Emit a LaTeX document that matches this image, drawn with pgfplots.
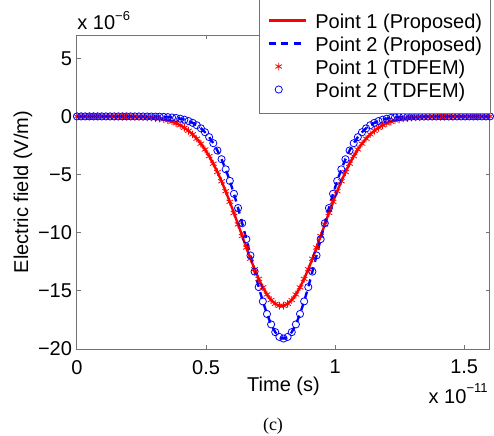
\documentclass[border=0pt]{standalone}
\usepackage{fontspec}
\setmainfont{Liberation Sans}
\newfontfamily\timesfont{Liberation Serif}
\usepackage{pgfplots}
\pgfplotsset{compat=1.18}
\usepackage{pgfplotstable}

% time in 1e-11 s, field in 1e-6 V/m
\pgfplotstableread{
t p1 p2
0.000 0 0
0.016 0 0
0.032 0 0
0.048 0 0
0.064 0 0
0.080 0 0
0.096 0 0
0.112 0 0
0.128 -0.003 0
0.144 -0.004 0
0.160 -0.006 0
0.176 -0.008 0
0.192 -0.012 0
0.208 -0.018 0
0.224 -0.026 0
0.240 -0.038 0
0.256 -0.053 -0.004
0.272 -0.074 -0.007
0.288 -0.103 -0.011
0.304 -0.141 -0.017
0.320 -0.192 -0.026
0.336 -0.259 -0.040
0.352 -0.344 -0.061
0.368 -0.453 -0.092
0.384 -0.591 -0.135
0.400 -0.762 -0.197
0.416 -0.974 -0.282
0.432 -1.232 -0.397
0.448 -1.542 -0.552
0.464 -1.910 -0.757
0.480 -2.342 -1.021
0.496 -2.843 -1.359
0.512 -3.416 -1.782
0.528 -4.064 -2.303
0.544 -4.784 -2.932
0.560 -5.576 -3.679
0.576 -6.432 -4.549
0.592 -7.345 -5.543
0.608 -8.302 -6.656
0.624 -9.288 -7.877
0.640 -10.285 -9.186
0.656 -11.275 -10.556
0.672 -12.233 -11.955
0.688 -13.139 -13.343
0.704 -13.969 -14.675
0.720 -14.701 -15.906
0.736 -15.312 -16.989
0.752 -15.788 -17.882
0.768 -16.114 -18.549
0.784 -16.279 -18.961
0.800 -16.279 -19.100
0.816 -16.114 -18.961
0.832 -15.788 -18.549
0.848 -15.312 -17.882
0.864 -14.701 -16.989
0.880 -13.969 -15.906
0.896 -13.139 -14.675
0.912 -12.233 -13.343
0.928 -11.275 -11.955
0.944 -10.285 -10.556
0.960 -9.288 -9.186
0.976 -8.302 -7.877
0.992 -7.345 -6.656
1.008 -6.432 -5.543
1.024 -5.576 -4.549
1.040 -4.784 -3.679
1.056 -4.064 -2.932
1.072 -3.416 -2.303
1.088 -2.843 -1.782
1.104 -2.342 -1.359
1.120 -1.910 -1.021
1.136 -1.542 -0.757
1.152 -1.232 -0.552
1.168 -0.974 -0.397
1.184 -0.762 -0.282
1.200 -0.591 -0.197
1.216 -0.453 -0.135
1.232 -0.344 -0.092
1.248 -0.259 -0.061
1.264 -0.192 -0.040
1.280 -0.141 -0.026
1.296 -0.103 -0.017
1.312 -0.074 -0.011
1.328 -0.053 -0.007
1.344 -0.038 -0.004
1.360 -0.026 0
1.376 -0.018 0
1.392 -0.012 0
1.408 -0.008 0
1.424 -0.006 0
1.440 -0.004 0
1.456 -0.003 0
1.472 0 0
1.488 0 0
1.504 0 0
1.520 0 0
1.536 0 0
1.552 0 0
1.568 0 0
1.584 0 0
1.600 0 0
}\efield

\begin{document}
\begin{tikzpicture}
\path[use as bounding box] (-38.5pt,-43pt) rectangle (208.5pt,174.5pt);
\begin{axis}[
    scale only axis, width=206.5pt, height=157pt,
    xmin=0, xmax=1.6, ymin=-20, ymax=7,
    xtick={0,0.5,1,1.5}, xticklabels={0,0.5,1,1.5},
    ytick={-20,-15,-10,-5,0,5}, yticklabels={−20,−15,−10,−5,0,5},
    tick align=inside, major tick length=2pt,
    axis line style={black!55, line width=0.5pt},
    major tick style={black!55, line width=0.5pt},
    xticklabel style={yshift=-2pt},
    yticklabel style={xshift=1pt},
    xlabel={Time (s)}, ylabel={Electric field (V/m)},
    xlabel style={at={(axis description cs:0.5,-0.134)}, anchor=base},
    ylabel style={at={(axis description cs:-0.131,0.5)}, anchor=center},
    legend cell align=left,
    legend style={at={(axis description cs:1.0024,1.1242)}, anchor=north east,
        draw=black!55, line width=0.5pt, fill=white,
        inner xsep=4.2pt, inner ysep=7pt, row sep=1.5pt, column sep=4pt,
        nodes={inner sep=0pt, text height=9pt, text depth=1pt}},
]
% legend samples
\addlegendimage{legend image code/.code={%
    \draw[red, line width=1.2pt] (0pt,0pt) -- (18.7pt,0pt);}}
\addlegendimage{legend image code/.code={%
    \draw[blue, line width=1.2pt, dash pattern=on 3.5pt off 2.8pt] (0pt,0pt) -- (18.7pt,0pt);}}
\addlegendimage{legend image code/.code={%
    \path[draw=none] (0pt,0pt) -- (18.7pt,0pt);
    \draw[red, line width=0.4pt] plot[only marks, mark=asterisk, mark size=1.9pt] coordinates {(5pt,0pt)};}}
\addlegendimage{legend image code/.code={%
    \path[draw=none] (0pt,0pt) -- (18.7pt,0pt);
    \draw[blue, line width=0.4pt] plot[only marks, mark=o, mark size=1.8pt] coordinates {(5pt,0pt)};}}

\addplot[forget plot, red, line width=1.2pt] table[x=t, y=p1] {\efield};
\addplot[forget plot, blue, line width=1.2pt, dash pattern=on 3.5pt off 2.8pt]
    table[x=t, y=p2] {\efield};
\addplot[forget plot, only marks, draw=none, mark=asterisk, mark size=1.9pt,
    mark options={draw=red, line width=0.4pt}] table[x=t, y=p1] {\efield};
\addplot[forget plot, only marks, draw=none, mark=o, mark size=1.8pt,
    mark options={draw=blue, line width=0.4pt}] table[x=t, y=p2] {\efield};
\legend{Point 1 (Proposed), Point 2 (Proposed), Point 1 (TDFEM), Point 2 (TDFEM)}
\end{axis}
\node[anchor=base west, inner sep=0pt] at (0pt,160pt)
    {x 10\raisebox{4.5pt}{\fontsize{6.5}{7}\selectfont −6}};
\node[anchor=base east, inner sep=0pt] at (205.5pt,-27pt)
    {x 10\raisebox{5.5pt}{\fontsize{6.5}{7}\selectfont −11}};
\node[anchor=base, inner sep=0pt, font=\timesfont\fontsize{9}{10}\selectfont] at (98pt,-40.5pt) {(c)};
\end{tikzpicture}
\end{document}
